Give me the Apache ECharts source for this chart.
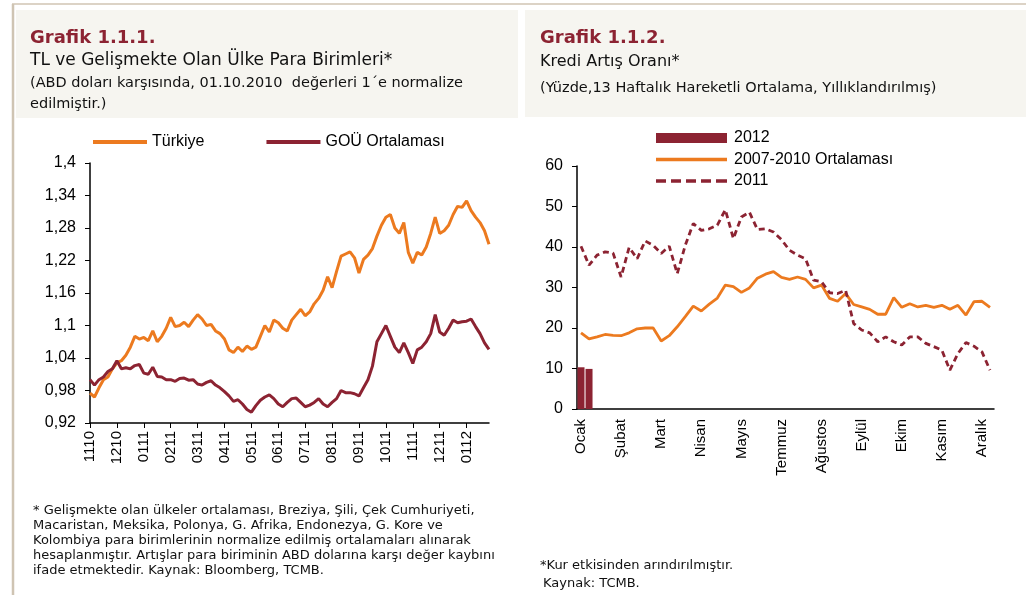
<!DOCTYPE html>
<html>
<head>
<meta charset="utf-8">
<title>Grafik 1.1.1 - 1.1.2</title>
<script src="https://cdn.jsdelivr.net/npm/echarts@6/dist/echarts.min.js"></script>
<style>
  html, body { margin: 0; padding: 0; background: #fff; }
  #main { width: 1026px; height: 595px; }
</style>
</head>
<body>
<div id="main"></div>
<script>
// Grafik 1.1.1 - TL ve GOÜ para birimleri (6 nokta / ay)
var monthTicks = ['1110', '1210', '0111', '0211', '0311', '0411', '0511', '0611',
    '0711', '0811', '0911', '1011', '1111', '1211', '0112'];
var turkiye = [
    0.975, 0.968, 0.985, 1.0, 1.005, 1.02, 1.031, 1.035, 1.045, 1.06,
    1.08, 1.075, 1.078, 1.072, 1.09, 1.07, 1.08, 1.095, 1.115, 1.098,
    1.10, 1.106, 1.098, 1.11, 1.12, 1.112, 1.10, 1.102, 1.09, 1.085,
    1.075, 1.055, 1.05, 1.06, 1.052, 1.062, 1.056, 1.06, 1.08, 1.10,
    1.088, 1.11, 1.105, 1.095, 1.09, 1.11, 1.12, 1.13, 1.118, 1.125,
    1.14, 1.15, 1.165, 1.19, 1.17, 1.20, 1.228, 1.232, 1.236, 1.225,
    1.197, 1.222, 1.23, 1.242, 1.265, 1.285, 1.30, 1.305, 1.28, 1.27,
    1.29, 1.235, 1.215, 1.235, 1.23, 1.245, 1.27, 1.30, 1.27, 1.275,
    1.285, 1.305, 1.32, 1.318, 1.33, 1.312, 1.30, 1.29, 1.275, 1.25
];
var gouOrtalamasi = [
    1.0, 0.99, 1.0, 1.005, 1.015, 1.02, 1.035, 1.02, 1.022, 1.02,
    1.026, 1.028, 1.012, 1.01, 1.023, 1.006, 1.005, 1.0, 1.0, 0.997,
    1.002, 1.003, 0.999, 1.0, 0.992, 0.99, 0.995, 0.998, 0.99, 0.985,
    0.978, 0.97, 0.96, 0.963, 0.955, 0.945, 0.94, 0.952, 0.962, 0.968,
    0.972, 0.965, 0.955, 0.95, 0.958, 0.965, 0.966, 0.958, 0.95, 0.953,
    0.958, 0.965, 0.955, 0.95, 0.958, 0.965, 0.98, 0.976, 0.976, 0.974,
    0.97, 0.985, 1.0, 1.025, 1.07, 1.085, 1.1, 1.08, 1.06, 1.05,
    1.068, 1.05, 1.03, 1.055, 1.06, 1.07, 1.085, 1.12, 1.088, 1.082,
    1.095, 1.11, 1.105, 1.107, 1.108, 1.112, 1.098, 1.085, 1.068, 1.056
];

// Grafik 1.1.2 - Kredi artış oranı (haftalık)
var months = ['Ocak', 'Şubat', 'Mart', 'Nisan', 'Mayıs', 'Haziran', 'Temmuz',
    'Ağustos', 'Eylül', 'Ekim', 'Kasım', 'Aralık'];
var weeksPerMonth = [5, 4, 4, 4, 5, 3, 5, 5, 4, 5, 4, 4];
var kredi2012 = [10.3, 9.9];
var ort2007_2010 = [
    18.8, 17.3, 17.8, 18.4, 18.2, 18.1, 18.8, 19.8, 20.0, 20.0,
    16.8, 18.1, 20.3, 22.8, 25.4, 24.2, 25.9, 27.4, 30.6, 30.2,
    28.8, 29.9, 32.3, 33.3, 33.9, 32.5, 32.0, 32.6, 32.0, 29.9,
    30.6, 27.3, 26.6, 28.5, 25.8, 25.2, 24.6, 23.4, 23.4, 27.5,
    25.1, 26.0, 25.2, 25.6, 25.1, 25.6, 24.6, 25.6, 23.2, 26.5,
    26.6, 25.1
];
var kredi2011 = [
    40.2, 35.5, 38.0, 38.8, 38.5, 32.6, 39.9, 37.1, 41.5, 40.4,
    38.4, 40.2, 33.4, 40.4, 45.8, 44.1, 44.5, 45.4, 49.2, 42.1,
    47.4, 48.6, 44.3, 44.5, 43.7, 41.8, 39.2, 38.0, 37.1, 31.8,
    31.4, 28.7, 28.5, 29.3, 21.1, 19.5, 18.8, 16.6, 17.8, 16.6,
    15.8, 17.8, 17.8, 16.2, 15.4, 14.5, 9.6, 13.7, 16.4, 15.5,
    14.1, 9.6
];

var ORANGE = '#EC7A1F';
var DARKRED = '#8C2332';
var AXISFONT = '"Liberation Sans", Arial, sans-serif';
var HEADFONT = '"DejaVu Sans", sans-serif';
var NOTEFONT = '"DejaVu Sans", sans-serif';

// legend icons: solid bars and a dashed bar
var ICON_LEFT = 'path://M0,0h54v4h-54z';
var ICON_SOLID = 'path://M0,0h71v3.5h-71z';
var ICON_DASH = 'path://M0,0h10v3.5h-10z M15,0h10v3.5h-10z M30,0h10v3.5h-10z M45,0h10v3.5h-10z M60,0h11v3.5h-11z';

var dayKeys = [];
for (var i = 0; i < turkiye.length; i++) {
    dayKeys.push(monthTicks[Math.floor(i / 6)] + '-' + (i % 6));
}
var weekKeys = [];
months.forEach(function (m, k) {
    for (var w = 0; w < weeksPerMonth[k]; w++) weekKeys.push(m + '-' + w);
});

function keyLabel(v) { return v.split('-')[0]; }

function headText(x, y, text, font, color) {
    return {
        type: 'text', silent: true,
        style: { x: x, y: y, text: text, font: font, fill: color || '#111', verticalAlign: 'middle' }
    };
}

var myChart = echarts.init(document.getElementById('main'));

var option = {
    animation: false,
    backgroundColor: '#fff',
    graphic: [
        { type: 'line', shape: { x1: 12, y1: 4, x2: 1026, y2: 4 }, style: { stroke: '#dcd3c6', lineWidth: 2 } },
        { type: 'line', shape: { x1: 13, y1: 4, x2: 13, y2: 595 }, style: { stroke: '#cfc4b3', lineWidth: 2.5 } },
        { type: 'rect', shape: { x: 16, y: 10, width: 502, height: 108 }, style: { fill: '#f6f5f0' } },
        { type: 'rect', shape: { x: 525, y: 10, width: 501, height: 107 }, style: { fill: '#f6f5f0' } },
        headText(30, 38, 'Grafik 1.1.1.', 'bold 18px ' + HEADFONT, DARKRED),
        headText(30, 61, 'TL ve Gelişmekte Olan Ülke Para Birimleri*', '17px ' + HEADFONT),
        headText(30, 83, '(ABD doları karşısında, 01.10.2010  değerleri 1\u00b4e normalize', '14.5px ' + HEADFONT),
        headText(30, 104, 'edilmiştir.)', '14.5px ' + HEADFONT),
        headText(540, 38, 'Grafik 1.1.2.', 'bold 18px ' + HEADFONT, DARKRED),
        headText(540, 62, 'Kredi Artış Oranı*', '16px ' + HEADFONT),
        headText(540, 88, '(Yüzde,13 Haftalık Hareketli Ortalama, Yıllıklandırılmış)', '14.5px ' + HEADFONT),
        headText(33, 511, '* Gelişmekte olan ülkeler ortalaması, Breziya, Şili, Çek Cumhuriyeti,', '13px ' + NOTEFONT),
        headText(33, 526, 'Macaristan, Meksika, Polonya, G. Afrika, Endonezya, G. Kore ve', '13px ' + NOTEFONT),
        headText(33, 541, 'Kolombiya para birimlerinin normalize edilmiş ortalamaları alınarak', '13px ' + NOTEFONT),
        headText(33, 556, 'hesaplanmıştır. Artışlar para biriminin ABD dolarına karşı değer kaybını', '13px ' + NOTEFONT),
        headText(33, 571, 'ifade etmektedir. Kaynak: Bloomberg, TCMB.', '13px ' + NOTEFONT),
        headText(540, 566, '*Kur etkisinden arındırılmıştır.', '13px ' + NOTEFONT),
        headText(543, 584, 'Kaynak: TCMB.', '13px ' + NOTEFONT)
    ],
    legend: [{
        left: 93, top: 134, padding: 0,
        itemWidth: 54, itemHeight: 14, itemGap: 62,
        textStyle: { fontFamily: AXISFONT, fontSize: 16, color: '#000' },
        data: [
            { name: 'Türkiye', icon: ICON_LEFT },
            { name: 'GOÜ Ortalaması', icon: ICON_LEFT }
        ]
    }, {
        orient: 'vertical',
        left: 656, top: 130, padding: 0,
        itemWidth: 71, itemHeight: 10, itemGap: 5.5,
        textStyle: { fontFamily: AXISFONT, fontSize: 16, color: '#000', padding: [0, 0, 0, 2] },
        data: [
            { name: '2012', icon: 'rect' },
            { name: '2007-2010 Ortalaması', icon: ICON_SOLID },
            { name: '2011', icon: ICON_DASH }
        ]
    }],
    grid: [
        { left: 90, top: 163, width: 399, height: 260 },
        { left: 577, top: 166, width: 417, height: 243 }
    ],
    xAxis: [{
        type: 'category', gridIndex: 0, boundaryGap: false, data: dayKeys,
        axisLine: { lineStyle: { color: '#000', width: 1.5 } },
        axisTick: { interval: 5, length: 5, lineStyle: { color: '#000' } },
        axisLabel: { interval: 5, rotate: 90, margin: 8, formatter: keyLabel,
            fontFamily: AXISFONT, fontSize: 15, color: '#000' }
    }, {
        type: 'category', gridIndex: 1, boundaryGap: true, data: weekKeys,
        axisLine: { lineStyle: { color: '#000', width: 1.5 } },
        axisTick: { interval: 0, length: 5, lineStyle: { color: '#000' } },
        axisLabel: { interval: 4, rotate: 90, margin: 10, formatter: keyLabel,
            fontFamily: AXISFONT, fontSize: 15, color: '#000' }
    }],
    yAxis: [{
        type: 'value', gridIndex: 0, min: 0.92, max: 1.4, interval: 0.06,
        splitLine: { show: false },
        axisLine: { show: true, lineStyle: { color: '#000', width: 1.5 } },
        axisTick: { show: true, length: 5, lineStyle: { color: '#000' } },
        axisLabel: { margin: 14, fontFamily: AXISFONT, fontSize: 16, color: '#000',
            formatter: function (v) { return String(Math.round(v * 100) / 100).replace('.', ','); } }
    }, {
        type: 'value', gridIndex: 1, min: 0, max: 60, interval: 10,
        splitLine: { show: false },
        axisLine: { show: true, lineStyle: { color: '#000', width: 1.5 } },
        axisTick: { show: true, length: 5, lineStyle: { color: '#000' } },
        axisLabel: { margin: 14, fontFamily: AXISFONT, fontSize: 16, color: '#000' }
    }],
    series: [{
        name: 'Türkiye', type: 'line', xAxisIndex: 0, yAxisIndex: 0,
        data: turkiye, showSymbol: false, symbol: 'none',
        itemStyle: { color: ORANGE },
        lineStyle: { color: ORANGE, width: 3 }
    }, {
        name: 'GOÜ Ortalaması', type: 'line', xAxisIndex: 0, yAxisIndex: 0,
        data: gouOrtalamasi, showSymbol: false, symbol: 'none',
        itemStyle: { color: DARKRED },
        lineStyle: { color: DARKRED, width: 3 }
    }, {
        name: '2012', type: 'bar', xAxisIndex: 1, yAxisIndex: 1,
        data: kredi2012, barWidth: 7,
        itemStyle: { color: DARKRED }
    }, {
        name: '2007-2010 Ortalaması', type: 'line', xAxisIndex: 1, yAxisIndex: 1,
        data: ort2007_2010, showSymbol: false, symbol: 'none',
        itemStyle: { color: ORANGE },
        lineStyle: { color: ORANGE, width: 2.8 }
    }, {
        name: '2011', type: 'line', xAxisIndex: 1, yAxisIndex: 1,
        data: kredi2011, showSymbol: false, symbol: 'none',
        itemStyle: { color: DARKRED },
        lineStyle: { color: DARKRED, width: 2.8, type: [6, 4] }
    }]
};

myChart.setOption(option);
</script>
</body>
</html>
